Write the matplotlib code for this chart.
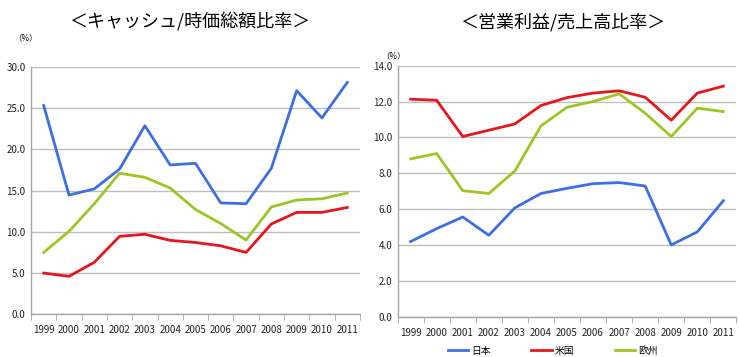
import numpy as np
import matplotlib
matplotlib.use('Agg')
import matplotlib.pyplot as plt

plt.rcParams['font.family'] = ['Noto Sans CJK JP', 'DejaVu Sans']

years = ['1999', '2000', '2001', '2002', '2003', '2004', '2005',
         '2006', '2007', '2008', '2009', '2010', '2011']
series_names = ['日本', '米国', '欧州']

# キャッシュ/時価総額比率 (%)
cash_jp = [25.3, 14.45, 15.2, 17.6, 22.85, 18.1, 18.3, 13.5, 13.4, 17.7, 27.1, 23.8, 28.1]
cash_us = [5.0, 4.6, 6.3, 9.45, 9.7, 8.96, 8.7, 8.3, 7.5, 10.95, 12.35, 12.35, 12.95]
cash_eu = [7.5, 10.05, 13.4, 17.1, 16.6, 15.3, 12.7, 11.0, 9.0, 13.0, 13.85, 14.0, 14.7]

# 営業利益/売上高比率 (%)
op_jp = [4.19, 4.91, 5.56, 4.54, 6.07, 6.87, 7.16, 7.42, 7.48, 7.29, 4.0, 4.73, 6.47]
op_us = [12.13, 12.07, 10.05, 10.4, 10.75, 11.78, 12.22, 12.47, 12.6, 12.24, 10.96, 12.47, 12.86]
op_eu = [8.8, 9.1, 7.03, 6.87, 8.13, 10.64, 11.68, 12.0, 12.43, 11.35, 10.05, 11.63, 11.44]

colors = ['#3D6FE3', '#E8161C', '#9CC623']
grid_c = '#BDBDBD'
axis_c = '#A6A6A6'

fig = plt.figure(figsize=(7.39, 3.57), dpi=100)
ax1 = fig.add_axes([0.042, 0.1196, 0.445, 0.6934])
ax2 = fig.add_axes([0.538, 0.113, 0.4585, 0.703])

x = np.arange(len(years))


def style(ax, ymax, step):
    ax.set_xlim(-0.5, len(years) - 0.5)
    ax.set_ylim(0, ymax)
    ax.set_yticks(np.arange(0, ymax + 0.01, step))
    ax.set_yticklabels(['%.1f' % v for v in np.arange(0, ymax + 0.01, step)])
    ax.set_xticks(x)
    ax.set_xticklabels(years)
    ax.set_xticks(np.arange(-0.5, len(years), 1), minor=True)
    ax.tick_params(axis='x', which='major', length=0, pad=8, labelsize=7, colors='#222222')
    ax.tick_params(axis='x', which='minor', length=4, direction='out', color=axis_c)
    ax.tick_params(axis='y', length=0, pad=4, labelsize=7, colors='#222222')
    ax.yaxis.grid(True, color=grid_c, linewidth=1.0)
    ax.set_axisbelow(True)
    for s in ['top', 'right']:
        ax.spines[s].set_visible(False)
    for s in ['left', 'bottom']:
        ax.spines[s].set_color(axis_c)
        ax.spines[s].set_linewidth(1.0)


for vals, c in zip([cash_jp, cash_us, cash_eu], colors):
    ax1.plot(x, vals, color=c, linewidth=2.0)
style(ax1, 30, 5)

lines = []
for vals, c, n in zip([op_jp, op_us, op_eu], colors, series_names):
    ln, = ax2.plot(x, vals, color=c, linewidth=2.0, label=n)
    lines.append(ln)
style(ax2, 14, 2)

fig.text(0.257, 0.938, '＜キャッシュ/時価総額比率＞', ha='center', va='center', fontsize=13)
fig.text(0.762, 0.938, '＜営業利益/売上高比率＞', ha='center', va='center', fontsize=13)
fig.text(0.034, 0.895, '（%）', ha='center', va='center', fontsize=6)
fig.text(0.532, 0.845, '（%）', ha='center', va='center', fontsize=6)

fig.legend(handles=lines, loc='center', bbox_to_anchor=(0.748, 0.018), ncol=3,
           frameon=False, fontsize=7, handlelength=2.1, columnspacing=4.2,
           handletextpad=0.3, borderpad=0.2)

fig.savefig('out.png', dpi=100)
